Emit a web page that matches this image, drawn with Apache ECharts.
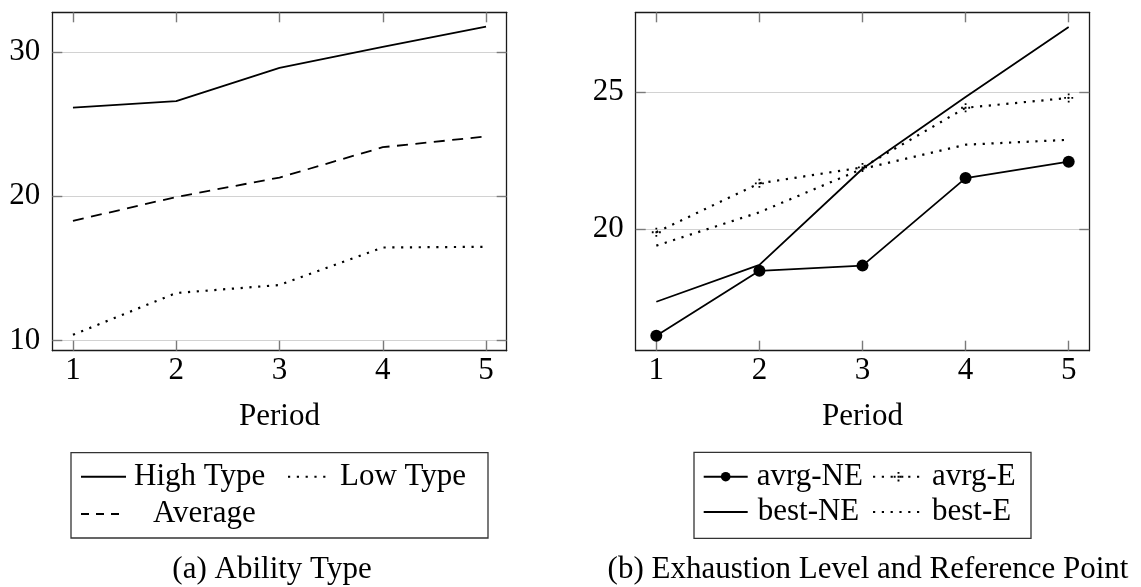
<!DOCTYPE html>
<html>
<head>
<meta charset="utf-8">
<script src="https://cdn.jsdelivr.net/npm/echarts@6/dist/echarts.min.js"></script>
<style>
  html, body { margin: 0; padding: 0; background: #fff; }
  #chart { width: 1141px; height: 587px; }
</style>
</head>
<body>
<div id="chart"></div>
<script>
// Periods on the horizontal axis
const periods = [1, 2, 3, 4, 5];
const periodTicks = [1, 2, 3, 4, 5];

// (a) Ability Type
const highType = [26.15, 26.6, 28.9, 30.35, 31.75];
const lowType = [10.4, 13.3, 13.85, 16.45, 16.5];
const averageType = [18.3, 19.95, 21.3, 23.4, 24.15];
const ticksA = [10, 20, 30];

// (b) Exhaustion Level and Reference Point
const avrgNE = [16.1, 18.47, 18.66, 21.86, 22.46];
const avrgE = [19.88, 21.67, 22.25, 24.43, 24.79];
const bestNE = [17.34, 18.69, 22.2, 24.82, 27.38];
const bestE = [19.39, 20.61, 22.2, 23.08, 23.26];
const ticksB = [20, 25];

const FONT = '"Liberation Serif", "DejaVu Serif", serif';
const FS = 31;

const pairs = (ys) => periods.map((p, i) => [p, ys[i]]);

// small dotted "+" marker
const dottedPlus = 'path://M3.6,0h1.8v1.8h-1.8z M3.6,3.6h1.8v1.8h-1.8z M3.6,7.2h1.8v1.8h-1.8z M0,3.6h1.8v1.8h-1.8z M7.2,3.6h1.8v1.8h-1.8z';

const frame = { show: true, onZero: false, lineStyle: { color: '#1a1a1a', width: 1.3 } };

// inward gray tick marks on all four sides of each plot
function ticks(values) {
  return {
    show: true, inside: true, length: 10, customValues: values,
    lineStyle: { color: '#7a7a7a', width: 1.4 }
  };
}

function xAxes(gridIndex) {
  return [
    {
      type: 'value', gridIndex, position: 'bottom', min: 0.8, max: 5.2,
      axisLine: frame,
      axisTick: ticks(periodTicks),
      axisLabel: { customValues: periodTicks, fontFamily: FONT, fontSize: FS, color: '#000', margin: 5 },
      splitLine: { show: false },
      name: 'Period', nameLocation: 'middle', nameGap: 51,
      nameTextStyle: { fontFamily: FONT, fontSize: FS, color: '#000' }
    },
    {
      type: 'value', gridIndex, position: 'top', min: 0.8, max: 5.2,
      axisLine: frame,
      axisTick: ticks(periodTicks),
      axisLabel: { show: false, customValues: periodTicks },
      splitLine: { show: false }
    }
  ];
}

function yAxes(gridIndex, min, max, values) {
  return [
    {
      type: 'value', gridIndex, position: 'left', min, max,
      axisLine: frame,
      axisTick: ticks(values),
      axisLabel: { customValues: values, fontFamily: FONT, fontSize: FS, color: '#000', margin: 12 },
      splitLine: { show: true, lineStyle: { color: '#d2d2d2', width: 1.2 } }
    },
    {
      type: 'value', gridIndex, position: 'right', min, max,
      axisLine: frame,
      axisTick: ticks(values),
      axisLabel: { show: false, customValues: values },
      splitLine: { show: false }
    }
  ];
}

function lineSeries(name, ys, axisIdx, style, extra) {
  return Object.assign({
    name, type: 'line', data: pairs(ys),
    xAxisIndex: axisIdx, yAxisIndex: axisIdx,
    symbol: 'none', color: '#000',
    lineStyle: Object.assign({ color: '#000', width: 1.8 }, style),
    z: 3
  }, extra || {});
}

const DOTTED = { type: [2.2, 6.6], width: 2.2 };
const noMarker = { color: 'rgba(0,0,0,0)', borderWidth: 0, opacity: 0 };

function legendItem(name, left, rowCenter, opts) {
  opts = opts || {};
  const item = {
    data: [name], left, top: rowCenter - FS / 2, padding: 0, itemGap: 0,
    itemWidth: opts.w || 45, itemHeight: 12, selectedMode: false,
    itemStyle: opts.marker ? {} : noMarker,
    textStyle: { fontFamily: FONT, fontSize: FS, color: '#000', padding: [0, 0, 0, opts.pad || 3] }
  };
  if (opts.line) item.lineStyle = opts.line;
  return item;
}

const option = {
  animation: false,
  backgroundColor: '#fff',
  grid: [
    { left: 52.3, top: 12.3, width: 454.4, height: 338.4 },
    { left: 635.7, top: 12.3, width: 453.6, height: 338.4 }
  ],
  xAxis: [...xAxes(0), ...xAxes(1)],
  yAxis: [...yAxes(0, 9.3, 32.75, ticksA), ...yAxes(1, 15.55, 27.92, ticksB)],
  legend: [
    legendItem('High Type', 80, 476.7),
    legendItem('Low Type', 287, 476.7, { w: 44 }),
    legendItem('Average', 80, 514, { w: 40, pad: 27, line: { type: [8, 7] } }),
    legendItem('avrg-NE', 702.7, 476.7, { w: 44, marker: true, pad: 4 }),
    legendItem('avrg-E', 872, 476.7, { w: 51, marker: true, pad: 0 }),
    legendItem('best-NE', 702.7, 512, { w: 44, pad: 5 }),
    legendItem('best-E', 872, 512, { w: 51, pad: 0 })
  ],
  series: [
    lineSeries('High Type', highType, 0, {}),
    lineSeries('Low Type', lowType, 0, DOTTED),
    lineSeries('Average', averageType, 0, { type: [11, 7.5] }),
    lineSeries('avrg-NE', avrgNE, 2, {}, {
      symbol: 'circle', symbolSize: 12, itemStyle: { color: '#000' }
    }),
    lineSeries('avrg-E', avrgE, 2, DOTTED, {
      symbol: dottedPlus, symbolSize: 9, itemStyle: { color: '#000' }
    }),
    lineSeries('best-NE', bestNE, 2, {}),
    lineSeries('best-E', bestE, 2, DOTTED)
  ],
  graphic: [
    { type: 'rect', shape: { x: 71, y: 452.7, width: 417, height: 85.3 },
      style: { fill: 'none', stroke: '#333', lineWidth: 1.3 } },
    { type: 'rect', shape: { x: 694, y: 452.3, width: 337, height: 86 },
      style: { fill: 'none', stroke: '#333', lineWidth: 1.3 } },
    { type: 'text', x: 272, y: 570,
      style: { text: '(a) Ability Type', font: FS + 'px ' + FONT, fill: '#000', align: 'center', verticalAlign: 'middle' } },
    { type: 'text', x: 868, y: 570,
      style: { text: '(b) Exhaustion Level and Reference Point', font: FS + 'px ' + FONT, fill: '#000', align: 'center', verticalAlign: 'middle' } }
  ]
};

const chart = echarts.init(document.getElementById('chart'), null, { renderer: 'canvas' });
chart.setOption(option);
</script>
</body>
</html>
